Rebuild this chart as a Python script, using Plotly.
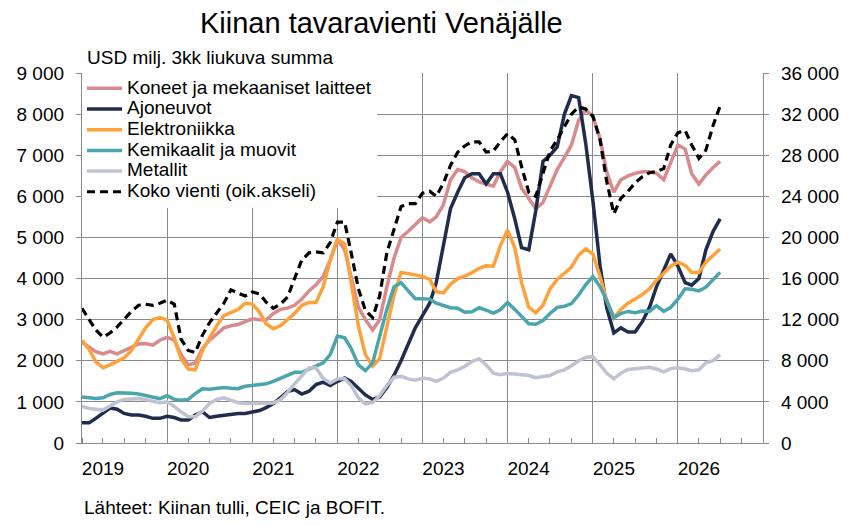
import pandas as pd
import plotly.graph_objects as go

# Monthly data, 3-month rolling sum, USD million (first month: Jan 2019)
start_month = "2019-01-01"

koneet = [2450, 2320, 2220, 2170, 2230, 2170, 2250, 2340, 2410, 2420, 2380, 2500, 2570, 2500, 2150, 1900,
          1950, 2300, 2500, 2650, 2800, 2850, 2880, 2950, 3020, 3000, 2990, 3150, 3250, 3280, 3350, 3500,
          3700, 3850, 4050, 4450, 4950, 4700, 4000, 3300, 3000, 2750, 3000, 3800, 4500, 5000, 5150, 5300,
          5480, 5380, 5500, 5800, 6400, 6650, 6600, 6450, 6350, 6300, 6250, 6600, 6850, 6700, 6200, 5950,
          5700, 5850, 6250, 6650, 6950, 7250, 7850, 8100, 7950, 7400, 6600, 6100, 6400, 6500, 6560, 6600,
          6600, 6560, 6400, 6800, 7250, 7150, 6550, 6300, 6520, 6700, 6850]

ajoneuvot = [490, 490, 600, 740, 850, 820, 720, 680, 680, 650, 600, 600, 650, 620, 560, 560,
             680, 760, 620, 650, 680, 700, 720, 720, 760, 790, 860, 960, 1100, 1250, 1300, 1190,
             1260, 1420, 1480, 1400, 1500, 1580, 1500, 1330, 1170, 1060, 1120, 1350, 1650, 2000, 2400, 2800,
             3100, 3400, 3900, 4800, 5700, 6100, 6450, 6550, 6550, 6300, 6550, 6550, 6100, 5450, 4750, 4700,
             5650, 6850, 7000, 7200, 8000, 8450, 8400, 7300, 5900, 4300, 3300, 2680, 2800, 2700, 2700, 2950,
             3300, 3800, 4200, 4600, 4300, 3900, 3840, 4000, 4700, 5150, 5450]

elektroniikka = [2500, 2270, 1980, 1830, 1900, 1980, 2070, 2250, 2550, 2800, 3000, 3050, 2990, 2550, 2050, 1800,
                 1780, 2250, 2550, 2850, 3100, 3170, 3250, 3400, 3380, 3180, 2900, 2780, 2850, 3000, 3150, 3350,
                 3420, 3420, 3800, 4450, 4950, 4850, 3950, 2850, 2150, 1870, 2050, 2850, 3600, 4150, 4130, 4090,
                 4050, 3980, 3680, 3650, 3860, 4000, 4060, 4140, 4250, 4310, 4300, 4800, 5180, 4750, 3900, 3300,
                 3170, 3350, 3750, 3980, 4130, 4280, 4570, 4720, 4600, 4050, 3470, 3050, 3250, 3400, 3500, 3610,
                 3750, 3960, 4130, 4300, 4400, 4320, 4150, 4150, 4400, 4560, 4720]

kemikaalit = [1120, 1090, 1080, 1100, 1180, 1220, 1220, 1210, 1190, 1160, 1120, 1080, 1150, 1060, 1040, 1060,
              1200, 1320, 1310, 1330, 1350, 1330, 1320, 1380, 1400, 1430, 1440, 1500, 1580, 1660, 1720, 1720,
              1800, 1880, 1950, 2150, 2600, 2560, 2300, 1900, 1760, 1950, 2600, 3250, 3800, 3900, 3700, 3510,
              3510, 3500, 3400, 3340, 3290, 3280, 3180, 3190, 3290, 3230, 3160, 3240, 3420, 3250, 3070, 2900,
              2890, 2980, 3150, 3300, 3325, 3390, 3600, 3850, 4050, 3800, 3470, 3050, 3150, 3200, 3170, 3210,
              3200, 3340, 3200, 3300, 3500, 3750, 3740, 3700, 3790, 3970, 4150]

metallit = [890, 840, 820, 800, 900, 1000, 1060, 1080, 1080, 1050, 1010, 980, 1000, 890, 760, 640,
            640, 780, 960, 1060, 1100, 1050, 980, 960, 960, 950, 950, 970, 1050, 1230, 1440, 1650,
            1830, 1830, 1570, 1460, 1560, 1570, 1400, 1100, 950, 980, 1150, 1400, 1600, 1620, 1560, 1530,
            1580, 1560, 1500, 1580, 1720, 1780, 1860, 1980, 2050, 1900, 1700, 1660, 1690, 1680, 1670, 1640,
            1590, 1620, 1640, 1730, 1780, 1880, 2000, 2080, 2100, 1900, 1700, 1560, 1700, 1790, 1810, 1810,
            1840, 1800, 1730, 1810, 1830, 1800, 1760, 1780, 1950, 2000, 2150]

koko_vienti = [13100, 12000, 11000, 10300, 10700, 11300, 12000, 12800, 13400, 13500, 13400, 13600, 13900, 13500,
               10100, 9000, 8800, 10500, 11700, 12700, 13600, 14900, 14600, 14300, 14700, 14500, 13700, 13100,
               13500, 14200, 16000, 17800, 18500, 18600, 18500, 19500, 21500, 21500, 18500, 15000, 12900, 12200,
               14300, 18500, 20800, 23000, 23300, 23300, 24300, 24500, 24000, 25300, 27000, 28300, 28900, 29300,
               29300, 28300, 28400, 29300, 30100, 29500, 26900, 24400, 24000, 26300, 28400, 29500, 30700, 32000,
               32700, 32500, 31800, 29500, 25500, 22300, 23800, 24500, 25300, 25900, 26300, 26400, 26700, 29000,
               30200, 30400, 29000, 27700, 28500, 30900, 32800]

year_labels = ["2019", "2020", "2021", "2022", "2023", "2024", "2025", "2026"]

series = [
    ("Koneet ja mekaaniset laitteet", koneet, "#D98A8D"),
    ("Ajoneuvot", ajoneuvot, "#1F2C4C"),
    ("Elektroniikka", elektroniikka, "#FDA13B"),
    ("Kemikaalit ja muovit", kemikaalit, "#4AA5AC"),
    ("Metallit", metallit, "#BEC2D3"),
]

months = pd.date_range(start_month, periods=len(koneet), freq="MS")
year_ticks = [f"{y}-01-01" for y in year_labels]

FONT = "Arial, Liberation Sans, sans-serif"
GRID = "#8a8a8a"


def lname(t):
    return f'<span style="font-size:19px">{t}</span>'


fig = go.Figure()
for name, vals, col in series:
    fig.add_trace(go.Scatter(x=months, y=vals, name=lname(name), mode="lines",
                             line=dict(color=col, width=3.5), yaxis="y"))
fig.add_trace(go.Scatter(x=months, y=koko_vienti, name=lname("Koko vienti (oik.akseli)"), mode="lines",
                         line=dict(color="#000000", width=3.2, dash="8px,5px"), yaxis="y2"))

fig.update_layout(
    width=851, height=526,
    margin=dict(l=82, r=86, t=73, b=83, pad=0),
    paper_bgcolor="white", plot_bgcolor="white",
    font=dict(family=FONT, size=19, color="#000000"),
    separators=", ",
    showlegend=True,
    title=dict(text="Kiinan tavaravienti Venäjälle", font=dict(family=FONT, size=29, color="#000000"),
               xref="container", x=200 / 851, xanchor="left",
               yref="container", y=1 - 23 / 526, yanchor="middle"),
    legend=dict(x=0.0, y=1.0, xanchor="left", yanchor="top", bgcolor="white",
                borderwidth=0, font=dict(size=13.6, family=FONT, color="#000000"),
                itemwidth=35, tracegroupgap=0),
    xaxis=dict(type="date", range=["2019-01-01", "2027-01-01"],
               tickmode="array", tickvals=year_ticks, ticktext=year_labels,
               showgrid=True, gridcolor=GRID, gridwidth=1,
               showline=True, linecolor=GRID, linewidth=1.3,
               ticks="", ticklabelshift=21, ticklabelstandoff=8,
               minor=dict(dtick="M3", tick0="2019-01-01", ticks="inside", ticklen=5,
                          tickcolor=GRID, tickwidth=1, showgrid=False),
               tickfont=dict(size=19)),
    yaxis=dict(range=[0, 9000], dtick=1000, tick0=0, tickformat=",d",
               showgrid=True, gridcolor=GRID, gridwidth=1, zeroline=False,
               showline=True, linecolor=GRID, linewidth=1.3,
               ticks="outside", ticklen=5, tickcolor=GRID, ticklabelstandoff=8,
               tickfont=dict(size=19)),
    yaxis2=dict(range=[0, 36000], dtick=4000, tick0=0, tickformat=",d",
                overlaying="y", side="right", showgrid=False, zeroline=False,
                showline=True, linecolor=GRID, linewidth=1.3,
                ticks="outside", ticklen=5, tickcolor=GRID, ticklabelstandoff=8,
                tickfont=dict(size=19)),
    annotations=[
        dict(text="USD milj. 3kk liukuva summa", xref="paper", yref="paper",
             x=(85 - 82) / 683, y=(443 - 57) / 370, xanchor="left", yanchor="middle",
             showarrow=False, font=dict(size=19, family=FONT, color="#000000")),
        dict(text="Lähteet: Kiinan tulli, CEIC ja BOFIT.", xref="paper", yref="paper",
             x=0, y=(443 - 507) / 370, xanchor="left", yanchor="middle",
             showarrow=False, font=dict(size=19, family=FONT, color="#000000")),
    ],
)

fig.write_html("out.html", config={"displayModeBar": False},
               post_script="document.body.style.margin='0px';")
